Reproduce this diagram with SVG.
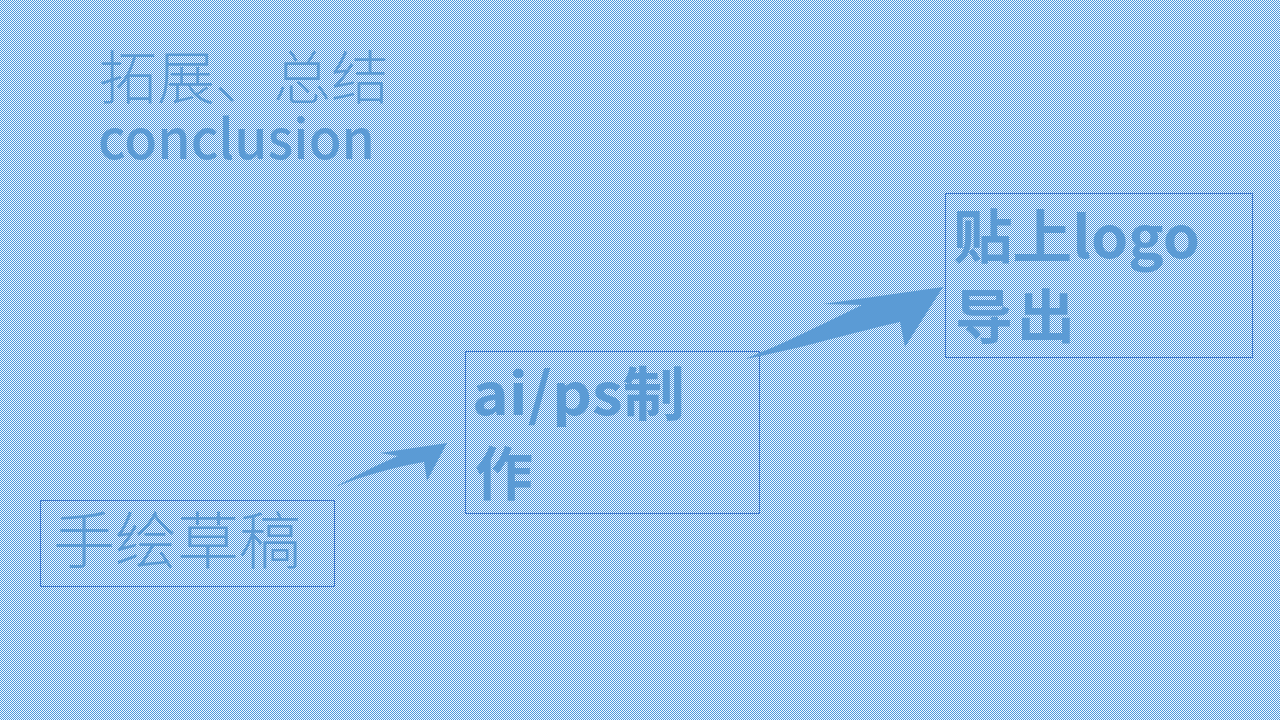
<svg xmlns="http://www.w3.org/2000/svg" width="1280" height="720" viewBox="0 0 1280 720">
  <defs>
    <!-- fine two-tone checker used as the page texture -->
    <pattern id="dither" x="0" y="0" width="2" height="2" patternUnits="userSpaceOnUse">
      <rect x="0" y="0" width="2" height="2" fill="#f2faff"/>
      <rect x="0" y="0" width="1" height="1" fill="#4f96dc"/>
      <rect x="1" y="1" width="1" height="1" fill="#4f96dc"/>
    </pattern>
    <style>
      .txt { font-family: "Noto Sans CJK SC", "Noto Sans", sans-serif; fill: #5b9bd5; }
      .light { font-weight: 300; }
      .medium { font-weight: 500; }
      .bold { font-weight: 700; }
      .box { fill: none; stroke: #3f78cc; stroke-width: 1; }
      .arrow { fill: #5b9bd5; stroke: none; }
    </style>
  </defs>

  <!-- page background -->
  <rect x="0" y="0" width="1280" height="720" fill="url(#dither)" shape-rendering="crispEdges"/>

  <!-- heading -->
  <g id="heading">
    <text class="txt light" x="99" y="99" font-size="58">拓展、总结</text>
    <text class="txt medium" x="98" y="159" font-size="55" textLength="277" lengthAdjust="spacingAndGlyphs">conclusion</text>
  </g>

  <!-- step 1 -->
  <g id="sketch">
    <rect class="box" x="40.5" y="500.5" width="294" height="86"/>
    <text class="txt light" x="53" y="564" font-size="62">手绘草稿</text>
  </g>

  <!-- step 2 -->
  <g id="make">
    <rect class="box" x="465.5" y="351.5" width="294" height="162"/>
    <text class="txt bold" x="472" y="415" font-size="58" textLength="213" lengthAdjust="spacingAndGlyphs">ai/ps制</text>
    <text class="txt bold" x="475" y="495" font-size="58">作</text>
  </g>

  <!-- step 3 -->
  <g id="export">
    <rect class="box" x="945.5" y="193.5" width="307" height="164"/>
    <text class="txt bold" x="953" y="258" font-size="58" textLength="247" lengthAdjust="spacingAndGlyphs">贴上logo</text>
    <text class="txt bold" x="955" y="338" font-size="58" textLength="120" lengthAdjust="spacing">导出</text>
  </g>

  <!-- connectors -->
  <g id="connectors">
    <path class="arrow" d="M335,487 C365,475 395,467 424,462 L427,481 L447,443 L380,453 L398,456 C375,466 355,476 335,487 Z"/>
    <path class="arrow" d="M745,359 C795,350 855,332 900,322 L905,347 L943,287 L823,304 L862,305 C825,323 785,343 745,359 Z"/>
  </g>
</svg>
